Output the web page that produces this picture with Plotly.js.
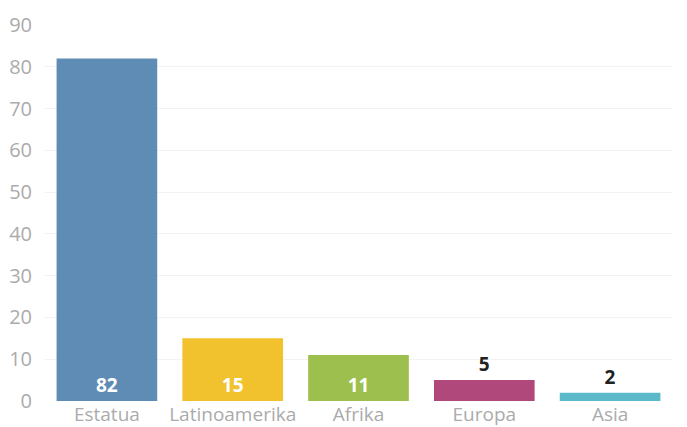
<!DOCTYPE html>
<html><head><meta charset="utf-8">
<script src="https://cdn.plot.ly/plotly-3.0.1.min.js"></script>
<style>html,body{margin:0;padding:0;background:#fff}#c{width:687px;height:427px}</style>
</head><body><div id="c"></div>
<script>
const categories = ["Estatua", "Latinoamerika", "Afrika", "Europa", "Asia"];
const values = [82, 15, 11, 5, 2];
const colors = ["#5f8cb5", "#f2c12e", "#9dbf4e", "#b0487c", "#5bb9c9"];
const labelPositions = ["inside", "inside", "inside", "outside", "outside"];
const labelColors = ["#ffffff", "#ffffff", "#ffffff", "#222222", "#222222"];

Plotly.newPlot("c", [{
  type: "bar",
  x: categories,
  y: values,
  marker: {color: colors},
  text: values.map(String),
  textposition: labelPositions,
  insidetextanchor: "start",
  textfont: {family: "Open Sans", size: 19, color: labelColors, weight: "bold"},
  cliponaxis: false,
  hoverinfo: "none"
}], {
  width: 687, height: 427,
  margin: {l: 44, r: 14, t: 25, b: 26},
  paper_bgcolor: "#fff", plot_bgcolor: "#fff",
  bargap: 0.2,
  showlegend: false,
  font: {family: "Open Sans", color: "#aaaaaa", size: 19},
  xaxis: {tickfont: {size: 19, color: "#ababab"}, showgrid: false, zeroline: false, showline: false, ticks: "", ticklabelstandoff: 0},
  yaxis: {range: [0, 90], dtick: 10, tickfont: {size: 20, color: "#ababab"}, gridcolor: "#f3f3f3", zeroline: false, showline: false, ticks: "", ticklabelstandoff: 11}
}, {displayModeBar: false, staticPlot: true});
</script></body></html>
